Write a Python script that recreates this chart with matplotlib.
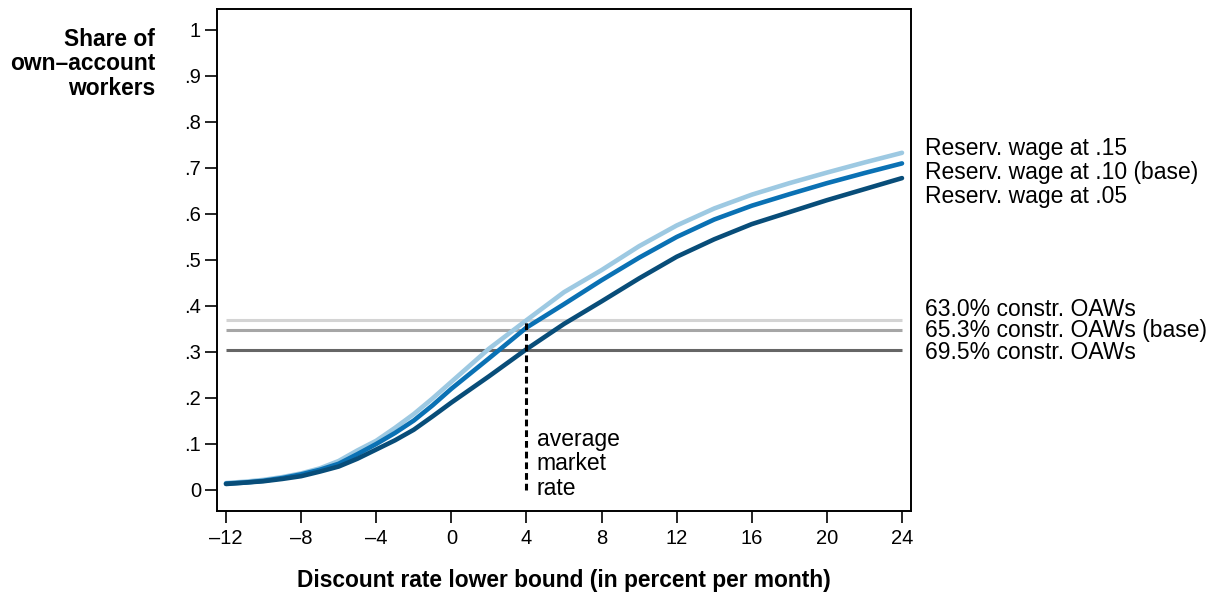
import matplotlib.pyplot as plt

plt.rcParams['font.family'] = ['Liberation Sans', 'DejaVu Sans']

# discount rate lower bound (percent per month)
rate = [-12, -11, -10, -9, -8, -7, -6, -5, -4, -3, -2, -1, 0,
        2, 4, 6, 8, 10, 12, 14, 16, 18, 20, 22, 24]

# share of own-account workers for three reservation wages
share_15 = [0.015, 0.018, 0.022, 0.028, 0.036, 0.047, 0.063, 0.086, 0.107, 0.135, 0.165, 0.199, 0.235,
            0.307, 0.369, 0.430, 0.478, 0.530, 0.575, 0.612, 0.642, 0.667, 0.690, 0.712, 0.733]
share_10 = [0.014, 0.016, 0.020, 0.026, 0.034, 0.044, 0.057, 0.078, 0.100, 0.124, 0.151, 0.184, 0.220,
            0.286, 0.353, 0.404, 0.456, 0.505, 0.550, 0.588, 0.618, 0.643, 0.667, 0.689, 0.710]
share_05 = [0.013, 0.016, 0.019, 0.024, 0.030, 0.040, 0.051, 0.068, 0.088, 0.108, 0.131, 0.160, 0.190,
            0.247, 0.306, 0.361, 0.410, 0.460, 0.507, 0.545, 0.578, 0.604, 0.630, 0.654, 0.678]
curve_labels = ["Reserv. wage at .15", "Reserv. wage at .10 (base)", "Reserv. wage at .05"]

# share of OAWs for the constrained-share scenarios
constr_levels = [0.370, 0.347, 0.305]
constr_labels = ["63.0% constr. OAWs", "65.3% constr. OAWs (base)", "69.5% constr. OAWs"]

market_rate = 4

xticks = [-12, -8, -4, 0, 4, 8, 12, 16, 20, 24]
yticks = [0, 0.1, 0.2, 0.3, 0.4, 0.5, 0.6, 0.7, 0.8, 0.9, 1.0]
ytick_labels = ["0", ".1", ".2", ".3", ".4", ".5", ".6", ".7", ".8", ".9", "1"]

fig = plt.figure(figsize=(12.17, 5.94), dpi=100)
ax = fig.add_axes([217 / 1217, 1 - 511 / 594, (911 - 217) / 1217, (511 - 9.3) / 594])

# horizontal reference lines
gray_cols = ['#d4d4d4', '#a6a6a6', '#666666']
for lev, col in zip(constr_levels, gray_cols):
    ax.plot([rate[0], rate[-1]], [lev, lev], color=col, lw=2.2, solid_capstyle='butt', zorder=1)

# curves
blue_cols = ['#9dc9e2', '#0a71b4', '#084d79']
for ys, col in zip([share_15, share_10, share_05], blue_cols):
    ax.plot(rate, ys, color=col, lw=3.3, solid_capstyle='round', solid_joinstyle='round', zorder=2)

# average market rate marker
ax.plot([market_rate, market_rate], [0, 0.366], color='black', lw=2.2,
        linestyle=(0, (2.2, 1.3)), zorder=3)
ax.text(market_rate + 0.55, (490 - 464) / 460, "average\nmarket\nrate", fontsize=16.5,
        va='center', ha='left', linespacing=1.09)

ax.set_xlim(-12.48, 24.48)
ax.set_ylim(-0.0457, 1.045)
ax.set_xticks(xticks)
ax.set_xticklabels(["\u2013" + str(-t) if t < 0 else str(t) for t in xticks])
ax.set_yticks(yticks)
ax.set_yticklabels(ytick_labels)
ax.tick_params(axis='both', direction='out', length=8.5, width=1.2, labelsize=14.5)
ax.tick_params(axis='x', pad=4.5)
ax.tick_params(axis='y', pad=3)
for sp in ax.spines.values():
    sp.set_linewidth(1.4)

# right-hand labels, one text block per group
label_x = 925 / 1217
fig.text(label_x, 1 - 172.7 / 594, "\n".join(curve_labels), fontsize=16.5,
         va='center', ha='left', linespacing=1.06)
fig.text(label_x, 1 - 331 / 594, "\n".join(constr_labels), fontsize=16.5,
         va='center', ha='left', linespacing=0.89)

fig.text(155 / 1217, 1 - 64 / 594, "Share of\nown\u2013account\nworkers", fontsize=16.4,
         fontweight='bold', ha='right', va='center', multialignment='right', linespacing=1.1)
fig.text(564 / 1217, 1 - 580 / 594, "Discount rate lower bound (in percent per month)",
         fontsize=16.4, fontweight='bold', ha='center', va='center')

fig.savefig('out.png', dpi=100)
